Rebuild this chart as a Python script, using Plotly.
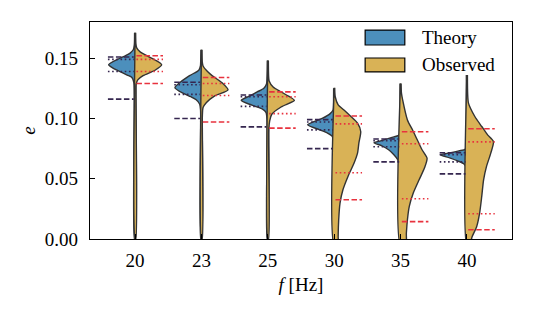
import plotly.graph_objects as go

# ---------------- data ----------------
categories = ["20", "23", "25", "30", "35", "40"]

# half-violin profiles: e values (top -> bottom) and relative half-width (1 = widest)
th20_e = [0.171, 0.161, 0.157, 0.154, 0.152, 0.149, 0.1445, 0.142, 0.1395, 0.136, 0.134, 0.130, 0.120, 0.0]
th20_w = [0.02, 0.03, 0.07, 0.2, 0.37, 0.66, 1.0, 0.85, 0.63, 0.3, 0.12, 0.05, 0.03, 0.025]
ob20_e = [0.171, 0.162, 0.1585, 0.155, 0.152, 0.1485, 0.1445, 0.140, 0.1355, 0.132, 0.1285, 0.120, 0.0]
ob20_w = [0.02, 0.03, 0.06, 0.2, 0.45, 0.75, 1.0, 0.75, 0.3, 0.1, 0.04, 0.03, 0.025]

th23_e = [0.157, 0.147, 0.1435, 0.140, 0.1355, 0.130, 0.1255, 0.121, 0.118, 0.1155, 0.112, 0.107, 0.095, 0.0]
th23_w = [0.02, 0.03, 0.04, 0.1, 0.45, 0.8, 1.0, 0.7, 0.4, 0.2, 0.07, 0.035, 0.03, 0.025]
ob23_e = [0.157, 0.147, 0.1435, 0.1395, 0.1355, 0.1295, 0.1237, 0.1187, 0.113, 0.109, 0.103, 0.090, 0.0]
ob23_w = [0.02, 0.03, 0.06, 0.2, 0.4, 0.78, 1.0, 0.5, 0.18, 0.06, 0.035, 0.03, 0.025]

th25_e = [0.148, 0.135, 0.1285, 0.125, 0.122, 0.1185, 0.115, 0.111, 0.1077, 0.105, 0.099, 0.0]
th25_w = [0.02, 0.03, 0.05, 0.15, 0.4, 0.7, 1.0, 0.6, 0.2, 0.07, 0.03, 0.025]
ob25_e = [0.148, 0.135, 0.131, 0.126, 0.122, 0.1185, 0.115, 0.1095, 0.1035, 0.098, 0.0905, 0.080, 0.0]
ob25_w = [0.02, 0.03, 0.05, 0.2, 0.5, 0.78, 1.0, 0.5, 0.15, 0.07, 0.035, 0.03, 0.025]

th30_e = [0.125, 0.112, 0.107, 0.104, 0.100, 0.0947, 0.0906, 0.0878, 0.0853, 0.082, 0.070, 0.0]
th30_w = [0.02, 0.025, 0.04, 0.15, 0.45, 1.0, 0.55, 0.25, 0.08, 0.03, 0.025, 0.025]
ob30_e = [0.1255, 0.118, 0.1113, 0.107, 0.1016, 0.0961, 0.0892, 0.0795, 0.0712, 0.063, 0.0519, 0.0408, 0.0298, 0.016, 0.002, -0.005]
ob30_w = [0.02, 0.04, 0.15, 0.37, 0.63, 0.88, 1.0, 0.93, 0.88, 0.75, 0.52, 0.33, 0.22, 0.17, 0.15, 0.15]

th35_e = [0.129, 0.095, 0.0863, 0.0847, 0.083, 0.0814, 0.0798, 0.0773, 0.074, 0.0699, 0.0657, 0.0616, 0.055, 0.0]
th35_w = [0.02, 0.025, 0.05, 0.25, 0.5, 0.75, 1.0, 0.7, 0.45, 0.25, 0.1, 0.04, 0.025, 0.025]
ob35_e = [0.129, 0.121, 0.1154, 0.0988, 0.0906, 0.0823, 0.074, 0.067, 0.0588, 0.0491, 0.0381, 0.027, 0.016, 0.005, -0.005]
ob35_w = [0.02, 0.035, 0.08, 0.26, 0.45, 0.63, 0.81, 1.0, 0.9, 0.7, 0.48, 0.33, 0.26, 0.22, 0.2]

th40_e = [0.136, 0.085, 0.0747, 0.0731, 0.0715, 0.0698, 0.0673, 0.0648, 0.0624, 0.0599, 0.05, 0.0]
th40_w = [0.02, 0.025, 0.05, 0.3, 0.6, 1.0, 0.65, 0.35, 0.12, 0.04, 0.025, 0.025]
ob40_e = [0.136, 0.120, 0.1127, 0.1016, 0.0933, 0.0864, 0.0809, 0.0712, 0.0602, 0.0491, 0.0353, 0.0215, 0.0104, 0.002, -0.005]
ob40_w = [0.02, 0.03, 0.06, 0.3, 0.56, 0.78, 1.0, 0.9, 0.74, 0.63, 0.56, 0.48, 0.37, 0.2, 0.1]

theory_profiles = [(th20_e, th20_w), (th23_e, th23_w), (th25_e, th25_w),
                   (th30_e, th30_w), (th35_e, th35_w), (th40_e, th40_w)]
observed_profiles = [(ob20_e, ob20_w), (ob23_e, ob23_w), (ob25_e, ob25_w),
                     (ob30_e, ob30_w), (ob35_e, ob35_w), (ob40_e, ob40_w)]

# reference lines per category
theory_dash_hi = [0.151, 0.130, 0.1195, 0.099, 0.083, 0.0715]
theory_dot_hi = [0.149, 0.128, 0.118, 0.097, 0.0815, 0.070]
theory_dot_lo = [0.139, 0.120, 0.110, 0.0905, 0.0765, 0.064]
theory_dash_lo = [0.116, 0.100, 0.093, 0.075, 0.064, 0.054]
obs_dash_hi = [0.152, 0.134, 0.122, 0.102, 0.089, 0.0914]
obs_dot_hi = [0.149, 0.129, 0.118, 0.0955, 0.079, 0.0806]
obs_dot_lo = [0.139, 0.119, 0.104, 0.055, 0.0334, 0.021]
obs_dash_lo = [0.129, 0.097, 0.092, 0.0326, 0.0144, 0.0077]

y_ticks = [0.00, 0.05, 0.10, 0.15]
y_ticklabels = ["0.00", "0.05", "0.10", "0.15"]

# ---------------- style ----------------
HALF = 0.4
BLUE = "#4c8fbc"
GOLD = "#d9b256"
EDGE = "#333333"
TH_LINE = "#35264f"
OB_LINE = "#e8323e"
FONT = "Liberation Serif"

fig = go.Figure()


def half_violin(pos, e, w, side, color):
    sgn = -1 if side == "left" else 1
    xs = [pos + sgn * wi * HALF for wi in w] + [pos, pos]
    ys = list(e) + [e[-1], e[0]]
    fig.add_trace(go.Scatter(
        x=xs, y=ys, mode="lines", fill="toself", fillcolor=color,
        line=dict(color=EDGE, width=1.4, shape="spline", smoothing=0.7),
        hoverinfo="skip", showlegend=False))


for i, (e, w) in enumerate(theory_profiles):
    half_violin(i, e, w, "left", BLUE)
for i, (e, w) in enumerate(observed_profiles):
    half_violin(i, e, w, "right", GOLD)


def hlines(values, side, color, dash):
    xs, ys = [], []
    for i, v in enumerate(values):
        if side == "left":
            xs += [i - 0.41, i - 0.02, None]
        else:
            xs += [i + 0.02, i + 0.42, None]
        ys += [v, v, None]
    fig.add_trace(go.Scatter(x=xs, y=ys, mode="lines",
                             line=dict(color=color, width=1.6, dash=dash),
                             hoverinfo="skip", showlegend=False))


DASH = "5.5px,2.5px"
DOT = "1.6px,2.6px"
hlines(theory_dash_hi, "left", TH_LINE, DASH)
hlines(theory_dot_hi, "left", TH_LINE, DOT)
hlines(theory_dot_lo, "left", TH_LINE, DOT)
hlines(theory_dash_lo, "left", TH_LINE, DASH)
hlines(obs_dash_hi, "right", OB_LINE, DASH)
hlines(obs_dot_hi, "right", OB_LINE, DOT)
hlines(obs_dot_lo, "right", OB_LINE, DOT)
hlines(obs_dash_lo, "right", OB_LINE, DASH)

# legend (drawn manually)
legend_items = [("Theory", BLUE, 0.963, 0.894), ("Observed", GOLD, 0.834, 0.770)]
for label, col, y1, y0 in legend_items:
    fig.add_shape(type="rect", xref="paper", yref="paper",
                  x0=0.652, x1=0.746, y0=y0, y1=y1,
                  fillcolor=col, line=dict(color="black", width=1.2))
    fig.add_annotation(xref="paper", yref="paper", x=0.782, y=(y0 + y1) / 2,
                       text=label, showarrow=False, xanchor="left", yanchor="middle",
                       font=dict(family=FONT, size=19, color="black"))

# the page body has an 8px default margin, so the figure is sized/placed to compensate
fig.update_layout(
    width=526, height=306,
    margin=dict(l=82, r=22, t=14, b=75, autoexpand=False),
    paper_bgcolor="white", plot_bgcolor="white",
    font=dict(family=FONT, size=19, color="black"),
    showlegend=False,
)
fig.update_xaxes(
    range=[-0.68, 5.68], tickmode="array", tickvals=list(range(len(categories))),
    ticktext=categories, ticks="inside", ticklen=5, tickwidth=1.2, tickcolor="black",
    ticklabelstandoff=4,
    showline=True, linecolor="black", linewidth=1.2, mirror=True,
    showgrid=False, zeroline=False, automargin=False,
    title=dict(text="<i>f</i> [Hz]", standoff=7, font=dict(family=FONT, size=19)),
)
fig.update_yaxes(
    range=[0, 0.18], tickmode="array", tickvals=y_ticks, ticktext=y_ticklabels,
    ticks="inside", ticklen=5, tickwidth=1.2, tickcolor="black",
    ticklabelstandoff=7,
    showline=True, linecolor="black", linewidth=1.2, mirror=True,
    showgrid=False, zeroline=False, automargin=False,
    title=dict(text="<i>e</i>", standoff=4, font=dict(family=FONT, size=19)),
)

fig.write_html("out.html")
